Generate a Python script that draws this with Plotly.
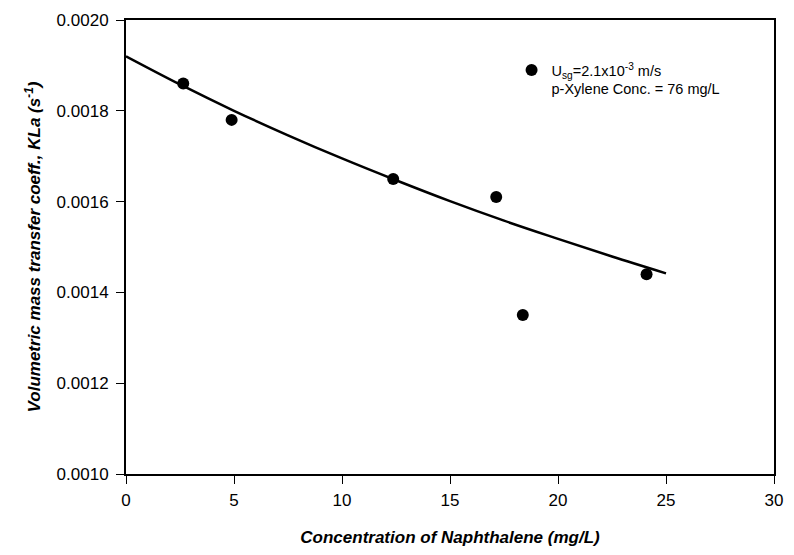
import plotly.graph_objects as go

naph_conc = [2.65, 4.89, 12.37, 17.14, 18.37, 24.1]
kla = [0.00186, 0.00178, 0.00165, 0.00161, 0.00135, 0.00144]

# Fitted curve
fit_x = [0, 2.5, 5, 7.5, 10, 12.5, 15, 17.5, 20, 22.5, 25]
fit_y = [0.00192, 0.001858, 0.00180, 0.001746, 0.001695, 0.001647,
         0.001601, 0.001558, 0.001518, 0.001479, 0.001442]

x_ticks = [0, 5, 10, 15, 20, 25, 30]
y_ticks = [0.0010, 0.0012, 0.0014, 0.0016, 0.0018, 0.0020]

font_family = "Liberation Sans, Arial, sans-serif"

fig = go.Figure()
fig.add_trace(go.Scatter(
    x=fit_x, y=fit_y, mode="lines", line=dict(color="black", width=2.5, shape="spline"),
    showlegend=False, hoverinfo="skip"))
fig.add_trace(go.Scatter(
    x=naph_conc, y=kla, mode="markers",
    marker=dict(color="black", size=12),
    name="U<sub>sg</sub>=2.1x10<sup>-3</sup> m/s<br>p-Xylene Conc. = 76 mg/L",
    showlegend=True))

fig.update_layout(
    width=794, height=555,
    margin=dict(l=126, r=11, t=16, b=81),
    paper_bgcolor="white", plot_bgcolor="white",
    font=dict(family=font_family, color="black", size=17),
    legend=dict(x=0.595, y=0.925, xanchor="left", yanchor="top",
                bgcolor="rgba(0,0,0,0)", font=dict(size=14.5, family=font_family),
                valign="top", itemwidth=30),
)
fig.update_xaxes(
    range=[0, 30], tickvals=x_ticks, ticks="outside", ticklen=8, tickwidth=1,
    tickcolor="black", showline=True, linecolor="black", linewidth=2, mirror=True,
    showgrid=False, zeroline=False, tickfont=dict(size=17), ticklabelstandoff=2,
    title=dict(text="<b><i>Concentration of Naphthalene (mg/L)</i></b>",
               font=dict(size=17), standoff=22))
fig.update_yaxes(
    range=[0.0010, 0.0020], tickvals=y_ticks, tickformat=".4f", ticks="outside",
    ticklen=8, tickwidth=1, tickcolor="black", showline=True, linecolor="black",
    linewidth=2, mirror=True, showgrid=False, zeroline=False, tickfont=dict(size=17),
    ticklabelstandoff=4,
    title=dict(text="<b><i>Volumetric mass transfer coeff., KLa (s<sup>-1</sup>)</i></b>",
               font=dict(size=17), standoff=12))

fig.write_html("out.html")
